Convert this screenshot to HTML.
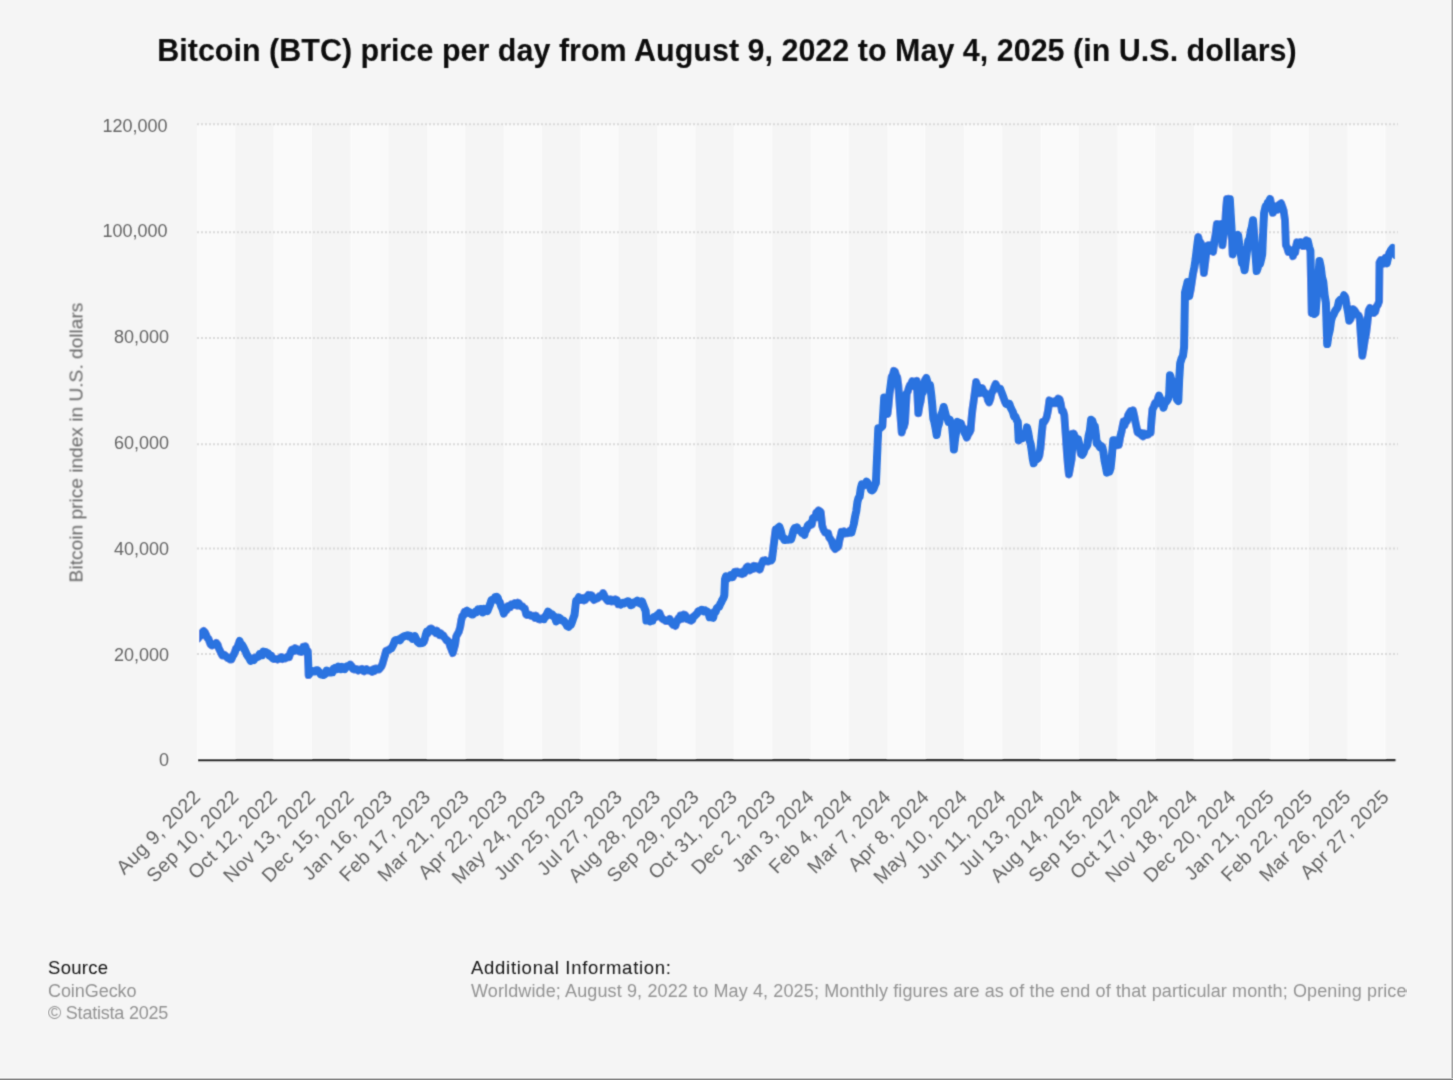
<!DOCTYPE html><html><head><meta charset="utf-8"><title>Bitcoin (BTC) price per day</title><style>html,body{margin:0;padding:0;background:#f5f5f5;}svg{display:block;font-family:"Liberation Sans",sans-serif;}</style></head><body><div id="w">
<svg width="1453" height="1080" viewBox="0 0 1453 1080">
<filter id="bl" x="0" y="0" width="100%" height="100%" filterUnits="objectBoundingBox"><feConvolveMatrix order="3" kernelMatrix="1 4 1 4 16 4 1 4 1" edgeMode="duplicate"/></filter>
<rect x="0" y="0" width="1453" height="1080" fill="#f5f5f5"/>
<g filter="url(#bl)">
<g fill="#fafafa"><rect x="197.00" y="124.2" width="38.34" height="636.0"/><rect x="273.68" y="124.2" width="38.34" height="636.0"/><rect x="350.37" y="124.2" width="38.34" height="636.0"/><rect x="427.05" y="124.2" width="38.34" height="636.0"/><rect x="503.74" y="124.2" width="38.34" height="636.0"/><rect x="580.42" y="124.2" width="38.34" height="636.0"/><rect x="657.11" y="124.2" width="38.34" height="636.0"/><rect x="733.79" y="124.2" width="38.34" height="636.0"/><rect x="810.48" y="124.2" width="38.34" height="636.0"/><rect x="887.16" y="124.2" width="38.34" height="636.0"/><rect x="963.85" y="124.2" width="38.34" height="636.0"/><rect x="1040.53" y="124.2" width="38.34" height="636.0"/><rect x="1117.22" y="124.2" width="38.34" height="636.0"/><rect x="1193.90" y="124.2" width="38.34" height="636.0"/><rect x="1270.59" y="124.2" width="38.34" height="636.0"/><rect x="1347.27" y="124.2" width="38.34" height="636.0"/></g>
<g stroke="#d9d9d9" stroke-width="2" stroke-dasharray="2,2"><line x1="197" y1="124.2" x2="1398" y2="124.2"/><line x1="197" y1="232.3" x2="1398" y2="232.3"/><line x1="197" y1="338.1" x2="1398" y2="338.1"/><line x1="197" y1="444.2" x2="1398" y2="444.2"/><line x1="197" y1="548.4" x2="1398" y2="548.4"/><line x1="197" y1="654.1" x2="1398" y2="654.1"/></g>
<g fill="#666" font-size="18" text-anchor="end"><text x="167.5" y="132.0">120,000</text><text x="167.5" y="236.5">100,000</text><text x="169.1" y="342.6">80,000</text><text x="169.1" y="448.7">60,000</text><text x="169.1" y="554.8">40,000</text><text x="169.1" y="661.2">20,000</text><text x="169.1" y="765.7">0</text></g>
<text transform="translate(82.5,442.5) rotate(-90)" text-anchor="middle" font-size="19.15" fill="#666">Bitcoin price index in U.S. dollars</text>
<g fill="#626262" font-size="19.5" letter-spacing="0.4"><text transform="translate(201.7,798) rotate(-45)" text-anchor="end">Aug 9, 2022</text><text transform="translate(240.0,798) rotate(-45)" text-anchor="end">Sep 10, 2022</text><text transform="translate(278.4,798) rotate(-45)" text-anchor="end">Oct 12, 2022</text><text transform="translate(316.7,798) rotate(-45)" text-anchor="end">Nov 13, 2022</text><text transform="translate(355.1,798) rotate(-45)" text-anchor="end">Dec 15, 2022</text><text transform="translate(393.4,798) rotate(-45)" text-anchor="end">Jan 16, 2023</text><text transform="translate(431.8,798) rotate(-45)" text-anchor="end">Feb 17, 2023</text><text transform="translate(470.1,798) rotate(-45)" text-anchor="end">Mar 21, 2023</text><text transform="translate(508.4,798) rotate(-45)" text-anchor="end">Apr 22, 2023</text><text transform="translate(546.8,798) rotate(-45)" text-anchor="end">May 24, 2023</text><text transform="translate(585.1,798) rotate(-45)" text-anchor="end">Jun 25, 2023</text><text transform="translate(623.5,798) rotate(-45)" text-anchor="end">Jul 27, 2023</text><text transform="translate(661.8,798) rotate(-45)" text-anchor="end">Aug 28, 2023</text><text transform="translate(700.2,798) rotate(-45)" text-anchor="end">Sep 29, 2023</text><text transform="translate(738.5,798) rotate(-45)" text-anchor="end">Oct 31, 2023</text><text transform="translate(776.8,798) rotate(-45)" text-anchor="end">Dec 2, 2023</text><text transform="translate(815.2,798) rotate(-45)" text-anchor="end">Jan 3, 2024</text><text transform="translate(853.5,798) rotate(-45)" text-anchor="end">Feb 4, 2024</text><text transform="translate(891.9,798) rotate(-45)" text-anchor="end">Mar 7, 2024</text><text transform="translate(930.2,798) rotate(-45)" text-anchor="end">Apr 8, 2024</text><text transform="translate(968.5,798) rotate(-45)" text-anchor="end">May 10, 2024</text><text transform="translate(1006.9,798) rotate(-45)" text-anchor="end">Jun 11, 2024</text><text transform="translate(1045.2,798) rotate(-45)" text-anchor="end">Jul 13, 2024</text><text transform="translate(1083.6,798) rotate(-45)" text-anchor="end">Aug 14, 2024</text><text transform="translate(1121.9,798) rotate(-45)" text-anchor="end">Sep 15, 2024</text><text transform="translate(1160.3,798) rotate(-45)" text-anchor="end">Oct 17, 2024</text><text transform="translate(1198.6,798) rotate(-45)" text-anchor="end">Nov 18, 2024</text><text transform="translate(1236.9,798) rotate(-45)" text-anchor="end">Dec 20, 2024</text><text transform="translate(1275.3,798) rotate(-45)" text-anchor="end">Jan 21, 2025</text><text transform="translate(1313.6,798) rotate(-45)" text-anchor="end">Feb 22, 2025</text><text transform="translate(1352.0,798) rotate(-45)" text-anchor="end">Mar 26, 2025</text><text transform="translate(1390.3,798) rotate(-45)" text-anchor="end">Apr 27, 2025</text></g>
<clipPath id="pc"><rect x="199" y="100" width="1195.8" height="680"/></clipPath>
<path clip-path="url(#pc)" d="M198.0,638.5 L199.1,636.8 L200.2,636.0 L201.4,633.8 L202.5,632.2 L203.6,631.0 L204.8,632.1 L206.1,634.7 L207.3,638.0 L208.6,638.9 L209.6,642.0 L210.6,644.4 L211.8,645.4 L212.9,644.6 L214.1,644.8 L215.2,644.6 L216.3,642.9 L217.5,644.4 L218.7,647.9 L219.9,650.4 L221.1,653.1 L222.3,655.4 L223.4,654.4 L224.6,654.9 L225.7,656.2 L226.8,657.1 L227.9,658.3 L229.1,658.5 L230.2,659.5 L231.3,659.6 L232.5,656.4 L233.7,654.6 L234.9,652.0 L236.0,648.4 L237.2,647.9 L238.4,644.2 L239.6,641.0 L240.8,644.3 L242.0,644.8 L243.3,647.0 L244.5,649.5 L245.7,652.0 L246.9,654.8 L248.2,656.7 L249.4,658.3 L250.6,660.9 L251.7,659.4 L252.8,659.1 L253.9,660.0 L255.0,657.5 L256.1,657.5 L257.3,657.0 L258.5,656.5 L259.7,654.1 L260.9,654.8 L262.1,655.2 L263.3,651.6 L264.5,652.4 L265.7,652.0 L266.9,652.9 L268.0,653.3 L269.1,655.5 L270.3,656.1 L271.5,655.8 L272.6,658.2 L273.8,659.0 L275.1,658.9 L276.3,659.1 L277.6,659.6 L278.8,658.7 L280.0,658.5 L281.3,657.2 L282.5,659.0 L283.8,657.9 L285.0,658.5 L286.4,657.7 L287.7,656.5 L289.1,657.2 L290.5,652.5 L291.9,649.6 L293.0,649.3 L294.1,651.1 L295.2,648.2 L296.3,648.8 L297.4,650.3 L298.8,651.2 L300.1,651.7 L301.2,652.0 L302.2,650.1 L303.2,646.8 L304.3,647.5 L305.4,646.4 L306.6,650.2 L307.7,651.0 L308.4,668.2 L308.6,675.1 L309.9,673.0 L311.2,671.3 L312.5,670.9 L313.7,671.6 L314.9,671.5 L316.1,670.5 L317.3,670.2 L318.5,671.4 L319.8,672.6 L321.0,674.6 L322.3,674.7 L323.5,675.1 L324.6,674.5 L325.6,673.5 L326.6,670.5 L327.7,670.9 L328.9,672.4 L330.1,672.5 L331.3,672.4 L332.5,672.3 L333.6,668.5 L334.6,668.2 L335.9,667.6 L337.1,669.0 L338.4,666.6 L339.7,668.0 L341.0,669.1 L342.2,667.0 L343.5,668.2 L344.6,669.1 L345.8,667.5 L346.9,666.3 L348.1,666.2 L349.2,665.9 L350.4,664.7 L351.8,666.4 L353.1,669.0 L354.5,669.6 L355.7,669.0 L357.0,669.2 L358.2,670.5 L359.5,669.6 L360.7,669.6 L361.8,669.0 L363.0,670.7 L364.1,671.4 L365.3,669.8 L366.4,669.1 L367.6,670.3 L368.7,670.5 L369.9,670.5 L371.0,670.9 L372.1,671.8 L373.2,669.3 L374.4,671.0 L375.5,668.4 L376.6,668.5 L377.8,669.4 L378.9,669.6 L380.0,668.2 L381.2,666.9 L382.4,664.1 L383.6,659.9 L384.9,655.3 L386.1,650.7 L387.4,650.3 L388.7,650.1 L390.0,648.9 L391.3,648.5 L392.5,646.1 L393.8,643.6 L395.0,640.4 L396.2,639.9 L397.5,640.1 L398.7,639.4 L399.9,640.3 L401.2,638.2 L402.4,637.4 L403.7,636.4 L405.0,635.9 L406.3,635.7 L407.6,635.2 L408.8,636.5 L410.0,635.8 L411.2,636.9 L412.4,638.7 L413.6,637.4 L414.8,636.2 L416.0,638.7 L417.1,641.2 L418.3,642.5 L419.5,643.3 L420.6,643.2 L421.7,642.2 L422.8,642.9 L423.9,641.9 L424.9,638.7 L425.9,634.5 L426.9,631.5 L428.0,633.1 L429.1,630.3 L430.2,628.7 L431.3,628.5 L432.4,629.5 L433.6,630.5 L434.7,631.8 L435.8,633.0 L437.0,630.7 L438.3,633.3 L439.5,635.1 L440.7,633.3 L442.0,634.8 L443.2,635.2 L444.3,637.4 L445.4,638.6 L446.5,640.5 L447.6,640.4 L448.9,642.0 L450.2,646.4 L451.5,649.5 L452.8,653.0 L453.9,648.9 L455.1,644.7 L456.2,636.5 L457.3,634.4 L458.8,631.8 L460.2,627.0 L461.3,620.0 L462.4,615.9 L463.5,615.3 L464.6,611.8 L465.8,612.2 L466.9,610.7 L468.1,612.7 L469.3,612.0 L470.4,613.1 L471.6,614.5 L472.8,614.4 L474.1,613.3 L475.4,611.8 L476.7,612.2 L478.0,609.3 L479.2,610.2 L480.5,608.9 L481.6,608.9 L482.8,612.4 L483.9,608.8 L485.1,611.2 L486.2,610.4 L487.4,611.0 L488.8,607.5 L490.1,604.4 L491.5,600.0 L492.7,599.8 L494.0,599.8 L495.2,597.1 L496.5,596.7 L497.7,597.9 L498.9,601.3 L500.0,602.4 L501.2,606.2 L502.5,608.9 L503.9,613.7 L505.3,609.7 L506.6,610.0 L508.0,606.2 L509.1,606.7 L510.2,607.2 L511.3,604.4 L512.4,605.1 L513.5,604.8 L514.6,603.3 L515.7,605.0 L516.8,605.6 L517.9,602.7 L519.0,603.4 L520.2,606.0 L521.3,606.3 L522.5,606.2 L523.7,608.2 L524.9,608.6 L526.1,614.3 L527.3,615.1 L528.5,615.1 L529.8,614.8 L531.0,615.9 L532.3,616.1 L533.5,615.8 L534.8,617.8 L536.0,615.7 L537.3,618.3 L538.6,619.1 L539.8,619.5 L541.1,618.5 L542.5,618.7 L543.8,619.2 L544.8,616.6 L545.9,616.5 L547.0,613.7 L548.0,611.7 L549.4,612.7 L550.7,615.0 L552.1,614.4 L553.5,616.4 L554.8,616.7 L556.2,621.3 L557.6,620.0 L558.9,617.6 L560.3,618.5 L561.3,620.2 L562.4,620.6 L563.5,620.5 L564.5,622.0 L565.9,623.6 L567.2,626.0 L568.6,626.8 L569.7,625.3 L570.9,624.9 L572.0,622.0 L573.2,618.4 L574.5,615.0 L576.2,600.6 L577.5,600.0 L578.9,597.2 L580.1,599.4 L581.4,600.0 L582.6,598.2 L583.9,600.4 L585.1,600.0 L586.2,597.0 L587.3,596.9 L588.4,595.0 L589.5,597.2 L590.6,595.1 L591.8,595.4 L592.9,598.4 L594.1,600.0 L595.5,599.1 L596.8,598.6 L598.2,597.9 L599.4,596.1 L600.6,595.8 L601.8,596.2 L603.0,593.1 L604.2,595.2 L605.3,597.8 L606.5,599.3 L607.7,600.9 L608.9,600.1 L610.1,599.5 L611.3,601.3 L612.7,600.0 L614.0,601.1 L615.4,599.3 L616.8,600.0 L618.2,604.1 L619.4,603.2 L620.5,604.6 L621.7,604.0 L622.9,602.9 L624.1,603.4 L625.2,602.5 L626.4,602.0 L627.5,601.3 L628.6,601.5 L629.7,603.0 L630.8,605.2 L631.9,604.8 L633.0,603.5 L634.0,602.5 L635.0,601.9 L636.1,602.0 L637.2,600.7 L638.4,602.6 L639.5,601.8 L640.7,603.8 L641.9,601.3 L643.0,604.1 L644.4,607.9 L645.7,611.0 L646.4,620.6 L647.6,620.0 L648.9,618.7 L650.1,621.3 L651.4,620.3 L652.6,620.6 L653.8,617.1 L654.9,617.2 L656.0,617.1 L657.2,615.1 L658.4,615.1 L659.5,613.0 L660.9,616.5 L662.2,618.5 L663.4,619.6 L664.7,619.7 L665.9,621.1 L667.2,620.9 L668.4,621.1 L669.7,619.0 L670.9,621.5 L672.0,623.5 L673.1,625.0 L674.3,624.5 L675.4,625.9 L676.8,621.7 L678.3,618.5 L679.4,619.8 L680.5,615.5 L681.6,617.1 L682.8,618.5 L683.9,614.5 L685.0,614.8 L686.2,616.7 L687.4,619.1 L688.5,618.2 L689.7,620.1 L690.9,620.7 L692.1,620.0 L693.4,616.6 L694.6,615.8 L695.8,614.6 L697.1,613.5 L698.3,611.1 L699.4,610.9 L700.5,610.7 L701.6,609.7 L702.8,610.3 L703.9,611.4 L705.0,610.4 L706.2,611.6 L707.3,611.6 L708.5,612.7 L709.6,617.3 L710.8,616.8 L711.9,617.4 L713.1,617.8 L714.4,611.9 L715.6,612.0 L716.9,608.1 L718.0,607.1 L719.1,606.9 L720.2,604.1 L721.3,602.2 L722.3,599.9 L723.3,598.4 L724.3,595.6 L725.0,579.3 L726.0,576.3 L727.0,578.9 L728.0,577.0 L729.2,576.9 L730.4,575.3 L731.5,577.2 L732.7,577.3 L733.9,574.8 L735.0,571.7 L736.1,571.9 L737.3,571.6 L738.5,573.1 L739.6,573.4 L740.8,573.2 L742.0,574.1 L743.1,571.3 L744.2,573.2 L745.4,570.3 L746.5,567.4 L747.6,566.4 L748.7,566.6 L749.8,570.5 L750.9,568.9 L751.9,569.0 L752.9,569.0 L753.9,565.9 L755.1,567.6 L756.3,566.4 L757.4,568.4 L758.6,566.4 L759.8,569.6 L760.9,565.8 L761.9,563.6 L763.0,560.7 L764.1,561.5 L765.2,560.2 L766.3,561.2 L767.4,561.5 L768.5,561.5 L769.6,560.8 L770.8,560.6 L771.9,559.3 L773.1,549.7 L774.4,539.1 L775.6,529.6 L776.8,529.6 L778.1,527.7 L779.3,526.7 L780.8,530.8 L782.2,537.0 L783.3,537.7 L784.4,540.0 L785.5,539.9 L786.6,539.6 L787.8,539.8 L788.9,539.5 L790.0,539.6 L791.1,539.3 L792.3,535.4 L793.6,530.2 L794.8,528.1 L795.9,528.3 L797.0,527.4 L798.2,530.0 L799.5,530.4 L800.7,530.9 L801.9,532.9 L803.2,532.3 L804.4,534.8 L805.5,529.8 L806.6,529.7 L807.8,525.8 L808.9,524.4 L809.9,525.4 L810.9,523.0 L811.9,524.4 L813.0,518.0 L814.1,517.1 L815.2,517.6 L816.3,512.6 L817.4,511.9 L818.5,510.4 L819.6,511.1 L820.7,511.9 L822.2,525.9 L823.2,528.8 L824.2,531.0 L825.2,532.6 L826.7,533.2 L828.1,533.3 L829.1,537.4 L830.1,538.6 L831.1,540.0 L832.1,542.4 L833.1,545.7 L834.1,547.4 L835.2,549.0 L836.3,547.8 L837.4,547.5 L838.5,545.9 L839.5,539.9 L840.5,536.4 L841.5,531.9 L842.7,532.8 L844.0,531.5 L845.2,533.3 L846.4,532.7 L847.7,533.1 L848.9,531.9 L850.1,530.4 L851.4,532.6 L852.6,528.1 L853.8,524.0 L855.1,516.5 L856.3,511.1 L857.4,502.2 L858.5,497.9 L859.6,496.9 L860.8,488.4 L861.9,484.4 L863.1,485.4 L864.3,485.2 L865.4,483.6 L866.6,481.6 L867.8,483.0 L868.9,485.1 L870.0,487.2 L871.1,490.1 L872.2,490.4 L873.4,489.0 L874.7,485.5 L875.9,483.0 L877.4,448.9 L878.3,428.3 L879.3,429.0 L880.4,427.9 L881.5,426.8 L882.5,425.8 L884.2,397.5 L885.3,403.1 L886.4,408.1 L887.5,414.0 L888.5,405.8 L889.6,393.6 L890.7,385.0 L891.7,376.7 L892.8,375.0 L893.9,370.8 L895.0,371.7 L896.1,375.4 L897.2,377.1 L898.3,385.0 L900.0,410.0 L901.7,432.5 L902.8,428.1 L903.9,426.7 L905.0,422.5 L906.7,393.3 L907.8,391.5 L908.9,387.7 L910.0,385.0 L911.1,383.9 L912.2,381.2 L913.4,386.0 L914.5,383.1 L915.6,383.4 L916.7,380.8 L918.3,413.3 L919.4,406.3 L920.5,401.9 L921.6,393.6 L922.8,392.4 L923.9,387.1 L925.0,380.0 L926.2,378.0 L927.5,382.4 L928.8,384.8 L930.0,385.0 L931.1,393.2 L932.2,404.2 L933.3,418.3 L934.4,422.2 L935.6,428.4 L936.7,435.0 L937.8,427.2 L938.9,423.9 L940.0,418.3 L941.2,414.9 L942.5,411.8 L943.7,407.0 L944.9,411.8 L946.2,416.8 L947.4,418.1 L948.5,421.8 L949.7,419.8 L950.9,422.9 L952.0,425.6 L953.0,436.0 L953.9,449.6 L955.1,438.7 L956.4,431.0 L957.6,421.9 L958.8,423.3 L959.9,425.4 L961.1,423.5 L962.2,427.4 L963.4,428.0 L964.5,432.5 L965.7,434.7 L966.9,437.6 L968.1,434.6 L969.4,432.6 L970.6,430.2 L971.5,418.8 L972.4,409.8 L973.6,401.7 L974.9,391.9 L976.1,382.0 L977.3,385.6 L978.6,388.3 L979.8,393.1 L980.9,392.6 L982.1,388.1 L983.2,390.8 L984.4,392.2 L985.6,394.8 L986.8,394.8 L987.9,400.2 L989.1,402.4 L990.4,398.9 L991.7,392.7 L993.0,390.9 L994.3,387.1 L995.6,383.9 L996.7,386.2 L997.8,387.9 L998.9,388.3 L1000.0,388.4 L1001.1,391.3 L1002.3,394.5 L1003.6,398.0 L1004.8,401.5 L1005.9,403.8 L1007.0,404.2 L1008.2,403.6 L1009.3,403.7 L1010.4,407.0 L1011.6,409.5 L1012.9,412.0 L1014.1,416.3 L1015.3,416.4 L1016.6,419.8 L1017.8,421.9 L1018.7,440.4 L1019.9,438.7 L1021.0,438.7 L1022.1,438.4 L1023.3,436.7 L1024.5,433.0 L1025.8,434.2 L1027.0,427.4 L1028.2,432.5 L1029.5,440.2 L1030.7,444.1 L1031.7,450.7 L1032.7,458.6 L1033.7,463.3 L1034.8,458.3 L1035.9,459.2 L1037.1,459.2 L1038.2,458.3 L1039.3,455.9 L1040.5,448.1 L1041.8,433.6 L1043.0,421.7 L1044.2,422.2 L1045.5,419.8 L1046.7,417.0 L1048.1,410.2 L1049.4,400.4 L1050.3,401.7 L1051.3,401.3 L1052.5,401.6 L1053.8,403.3 L1055.0,403.1 L1056.2,400.4 L1057.3,403.2 L1058.4,398.6 L1059.6,399.4 L1060.8,403.8 L1061.9,410.8 L1063.1,410.9 L1064.3,415.2 L1065.7,434.7 L1067.0,454.1 L1068.0,466.0 L1068.9,474.4 L1070.3,466.6 L1071.7,458.7 L1072.6,433.7 L1073.7,433.6 L1074.8,436.3 L1075.9,438.0 L1077.0,439.3 L1078.1,439.3 L1079.5,445.5 L1080.9,454.1 L1082.2,454.9 L1083.5,452.9 L1084.8,448.5 L1086.1,447.1 L1087.4,444.8 L1088.6,435.8 L1089.9,430.4 L1091.1,419.8 L1092.3,420.8 L1093.6,425.2 L1094.8,426.3 L1095.8,433.9 L1096.7,443.0 L1097.8,442.7 L1098.9,445.6 L1100.0,447.3 L1101.1,445.9 L1102.2,446.7 L1103.4,452.2 L1104.6,460.9 L1105.7,466.1 L1106.9,472.6 L1108.1,471.5 L1109.4,471.7 L1110.6,468.0 L1111.9,455.8 L1113.3,440.2 L1114.4,440.3 L1115.5,445.5 L1116.7,443.0 L1117.8,445.1 L1118.9,444.8 L1120.1,437.6 L1121.4,432.4 L1122.6,426.3 L1123.6,421.6 L1124.6,425.3 L1125.6,420.6 L1126.8,421.1 L1128.1,415.2 L1129.3,413.1 L1130.5,411.2 L1131.8,414.0 L1133.0,410.4 L1134.3,416.1 L1135.7,423.3 L1136.7,427.9 L1137.6,432.6 L1138.7,432.9 L1139.8,433.9 L1140.9,433.1 L1142.0,435.6 L1143.1,436.3 L1144.3,433.4 L1145.6,435.0 L1146.8,434.9 L1148.1,434.6 L1149.3,432.9 L1150.6,432.6 L1151.5,419.6 L1152.4,409.4 L1153.7,406.9 L1155.0,403.1 L1156.3,403.7 L1157.6,399.6 L1158.9,395.6 L1160.1,398.4 L1161.2,400.8 L1162.3,403.4 L1163.5,407.6 L1164.6,403.7 L1165.7,402.2 L1166.9,400.9 L1168.0,398.9 L1169.1,395.6 L1170.0,375.2 L1171.1,378.8 L1172.2,384.0 L1173.4,381.7 L1174.5,385.5 L1175.6,388.1 L1176.9,399.3 L1178.3,401.1 L1179.2,378.9 L1180.2,363.1 L1181.6,358.5 L1183.0,355.7 L1184.1,347.1 L1185.0,292.6 L1186.3,287.6 L1187.6,282.0 L1188.5,289.4 L1189.4,296.1 L1190.7,289.5 L1191.9,281.3 L1193.1,273.4 L1194.4,267.3 L1195.6,259.1 L1196.9,248.1 L1198.3,236.9 L1199.5,243.5 L1200.8,242.8 L1202.0,251.7 L1203.0,260.5 L1203.9,273.0 L1205.3,261.4 L1206.7,249.8 L1208.1,245.3 L1209.4,245.2 L1210.6,245.2 L1211.9,250.9 L1213.1,251.7 L1214.4,241.0 L1215.6,234.5 L1216.9,223.9 L1218.1,225.5 L1219.2,224.6 L1220.3,225.0 L1221.5,223.9 L1222.4,245.2 L1223.8,234.3 L1225.2,223.9 L1226.1,208.3 L1227.0,198.9 L1228.4,198.8 L1229.8,198.9 L1230.8,216.1 L1231.7,231.3 L1232.6,254.4 L1233.7,249.4 L1234.8,246.4 L1235.9,244.4 L1237.0,237.0 L1238.1,235.0 L1239.5,246.1 L1240.9,254.4 L1242.1,263.5 L1243.4,263.8 L1244.6,270.2 L1245.8,260.6 L1247.1,250.1 L1248.3,240.6 L1249.5,238.8 L1250.7,231.1 L1251.8,227.3 L1253.0,220.2 L1253.9,231.2 L1254.8,245.2 L1255.8,258.1 L1256.7,271.1 L1257.8,267.7 L1258.9,260.7 L1260.0,264.1 L1261.1,259.6 L1262.2,254.4 L1263.2,229.8 L1264.1,212.8 L1265.6,206.3 L1266.8,206.1 L1267.9,202.3 L1269.0,201.8 L1270.2,198.9 L1271.6,206.7 L1273.0,212.8 L1274.2,207.3 L1275.5,208.0 L1276.7,206.3 L1277.8,209.6 L1278.9,205.0 L1280.0,204.0 L1281.1,203.3 L1282.2,206.3 L1283.6,210.5 L1285.0,220.2 L1285.9,245.2 L1287.1,247.4 L1288.4,251.9 L1289.6,249.8 L1290.7,251.3 L1291.8,251.4 L1293.0,256.2 L1294.1,250.9 L1295.2,252.6 L1296.1,246.1 L1297.0,242.4 L1298.2,244.1 L1299.5,244.8 L1300.7,242.1 L1301.9,242.4 L1303.2,246.1 L1304.4,246.1 L1305.5,243.8 L1306.5,240.4 L1307.8,241.1 L1309.1,246.9 L1310.4,250.8 L1311.7,313.0 L1313.0,312.0 L1314.3,313.9 L1315.6,313.0 L1316.9,295.5 L1318.2,278.2 L1319.5,261.1 L1320.8,267.3 L1322.0,277.1 L1323.3,281.9 L1324.6,295.0 L1325.9,302.6 L1327.2,344.1 L1328.5,335.7 L1329.8,330.2 L1331.1,320.8 L1332.4,316.1 L1333.7,314.3 L1335.0,311.2 L1336.3,309.3 L1337.6,307.5 L1338.9,301.3 L1340.2,299.8 L1341.5,299.6 L1342.8,299.3 L1344.1,295.2 L1345.4,297.4 L1346.7,305.2 L1348.0,311.7 L1349.3,320.8 L1350.6,318.9 L1351.9,313.4 L1353.2,309.2 L1354.5,310.4 L1355.8,312.4 L1357.1,314.8 L1358.4,315.2 L1359.7,318.2 L1361.0,338.6 L1362.3,355.8 L1363.6,348.0 L1364.8,340.0 L1366.1,333.8 L1367.4,323.0 L1368.7,310.4 L1370.0,308.0 L1371.3,310.4 L1372.6,312.3 L1373.9,313.0 L1375.2,311.7 L1376.5,306.8 L1377.8,304.8 L1379.1,301.3 L1379.5,262.4 L1380.7,260.3 L1381.9,261.6 L1383.1,263.7 L1384.3,259.5 L1385.5,257.6 L1386.8,263.4 L1388.0,258.0 L1389.2,253.1 L1390.5,251.0 L1391.5,249.5 L1392.6,248.0 L1394.0,251.9 L1395.5,255.0" fill="none" stroke="#2a73e0" stroke-width="8" stroke-linejoin="round" stroke-linecap="round"/>
<line x1="198.0" y1="760.2" x2="1395.5" y2="760.2" stroke="#2e2e2e" stroke-width="2.2"/>
<text x="727" y="60.7" text-anchor="middle" font-size="30.5" font-weight="bold" fill="#0a0a0a">Bitcoin (BTC) price per day from August 9, 2022 to May 4, 2025 (in U.S. dollars)</text>
<g>
<text x="48" y="973.7" fill="#141414" font-size="18.5" textLength="60.1" lengthAdjust="spacing">Source</text>
<text x="48" y="997" fill="#939393" font-size="18" textLength="88.5" lengthAdjust="spacing">CoinGecko</text>
<text x="48" y="1018.9" fill="#939393" font-size="18" textLength="120.3" lengthAdjust="spacing">© Statista 2025</text>
<text x="471" y="973.7" fill="#141414" font-size="18.5" textLength="200" lengthAdjust="spacing">Additional Information:</text>
<text x="471" y="996.9" fill="#939393" font-size="18" textLength="935.5" lengthAdjust="spacing">Worldwide; August 9, 2022 to May 4, 2025; Monthly figures are as of the end of that particular month; Opening price</text>
</g>
</g>
<rect x="1451" y="0" width="1" height="1080" fill="#cccccc"/><rect x="1452" y="0" width="1" height="1080" fill="#a5a5a5"/>
<rect x="0" y="1078" width="1453" height="1" fill="#c4c4c4"/><rect x="0" y="1079" width="1453" height="1" fill="#858585"/>
</svg></div></body></html>
